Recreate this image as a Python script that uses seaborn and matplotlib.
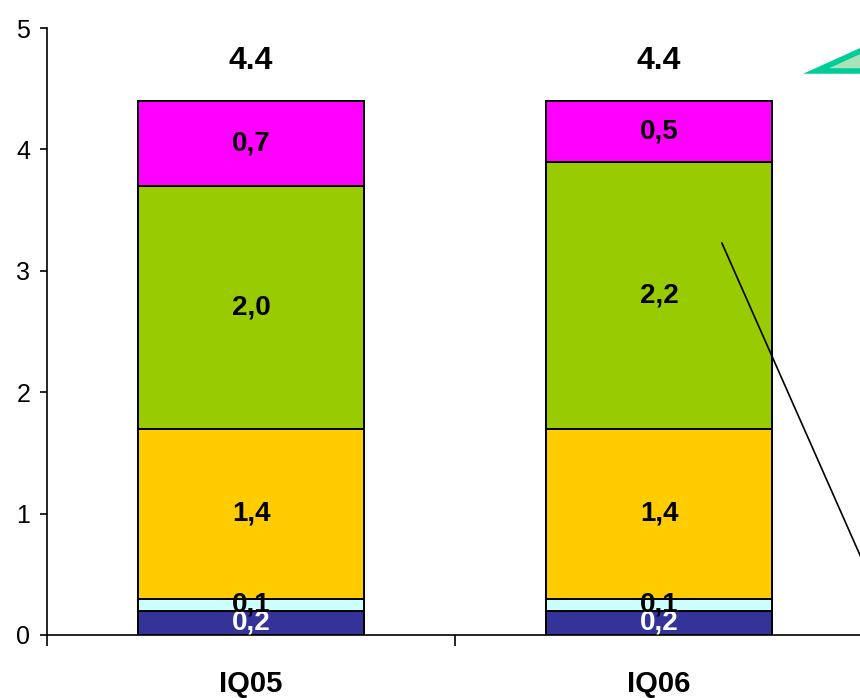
import numpy as np
import matplotlib
matplotlib.use("Agg")
import matplotlib.pyplot as plt
from matplotlib.patches import Polygon
import seaborn as sns

categories = ["IQ05", "IQ06"]
layer_names = ["dark", "cyan", "gold", "green", "magenta"]
dark_vals = [0.2, 0.2]
cyan_vals = [0.1, 0.1]
gold_vals = [1.4, 1.4]
green_vals = [2.0, 2.2]
magenta_vals = [0.7, 0.5]
totals = [4.4, 4.4]
layer_colors = ["#333399", "#CCFFFF", "#FFCC00", "#99CC00", "#FF00FF"]
label_colors = ["white", "black", "black", "black", "black"]
y_ticks = [0, 1, 2, 3, 4, 5]

layers = [dark_vals, cyan_vals, gold_vals, green_vals, magenta_vals]


def run_chart():

    sns.set_style("ticks")
    plt.rcParams["font.family"] = ["Liberation Sans", "DejaVu Sans"]
    plt.rcParams["text.color"] = "black"
    plt.rcParams["xtick.color"] = "black"
    plt.rcParams["ytick.color"] = "black"
    plt.rcParams["axes.edgecolor"] = "black"
    plt.rcParams["axes.labelcolor"] = "black"

    fig = plt.figure(figsize=(8.6, 6.98), dpi=100)
    ax = fig.add_axes([47 / 860, 63 / 698, 816 / 860, 607 / 698])

    cum = np.cumsum(np.array(layers), axis=0)

    # draw from top layer down so lower layers sit on top
    for i in range(len(layers) - 1, -1, -1):
        sns.barplot(
            x=categories,
            y=cum[i],
            color=layer_colors[i],
            saturation=1,
            width=0.554,
            edgecolor="black",
            linewidth=1.4,
            ax=ax,
        )

    for i, vals in enumerate(layers):
        for j, v in enumerate(vals):
            ax.text(
                j, cum[i][j] - v / 2,
                f"{v:.1f}".replace(".", ","),
                ha="center", va="center",
                fontsize=20, fontweight="bold",
                color=label_colors[i],
            )

    for j, t in enumerate(totals):
        ax.text(
            j, t + 0.33, f"{t:.1f}",
            ha="center", va="center",
            fontsize=23, fontweight="bold", color="black",
        )

    # pointer line to the right
    ax.plot([1.154, 1.52], [3.23, 0.45], color="black", linewidth=1.2,
            clip_on=False)

    ax.set_xlim(-0.5, 1.5)
    ax.set_ylim(0, 5)
    ax.set_yticks(y_ticks)
    ax.set_yticklabels([str(t) for t in y_ticks], fontsize=18)
    ax.set_xticks([0, 1])
    ax.set_xticklabels(categories, fontsize=21, fontweight="bold")
    ax.set_xticks([-0.5, 0.5, 1.5], minor=True)
    ax.tick_params(axis="x", which="major", length=0, pad=25)
    ax.tick_params(axis="x", which="minor", length=8, width=1.2,
                   direction="out")
    ax.tick_params(axis="y", length=5, width=1.2, pad=7, direction="out")
    ax.set_xlabel("")
    ax.set_ylabel("")

    sns.despine(ax=ax, top=True, right=True)
    ax.spines["left"].set_linewidth(1.2)
    ax.spines["bottom"].set_linewidth(1.2)

    # decorative triangle in the top right corner
    tri = [(816, 71), (878, 43), (878, 71)]
    tri = [(x / 860, 1 - y / 698) for x, y in tri]
    fig.patches.append(
        Polygon(tri, closed=True, transform=fig.transFigure,
                facecolor="#A8E4B8", edgecolor="#00CC99", linewidth=4)
    )

    fig.savefig("out.png", dpi=100)
    plt.close(fig)


if __name__ == "__main__":

    run_chart()
